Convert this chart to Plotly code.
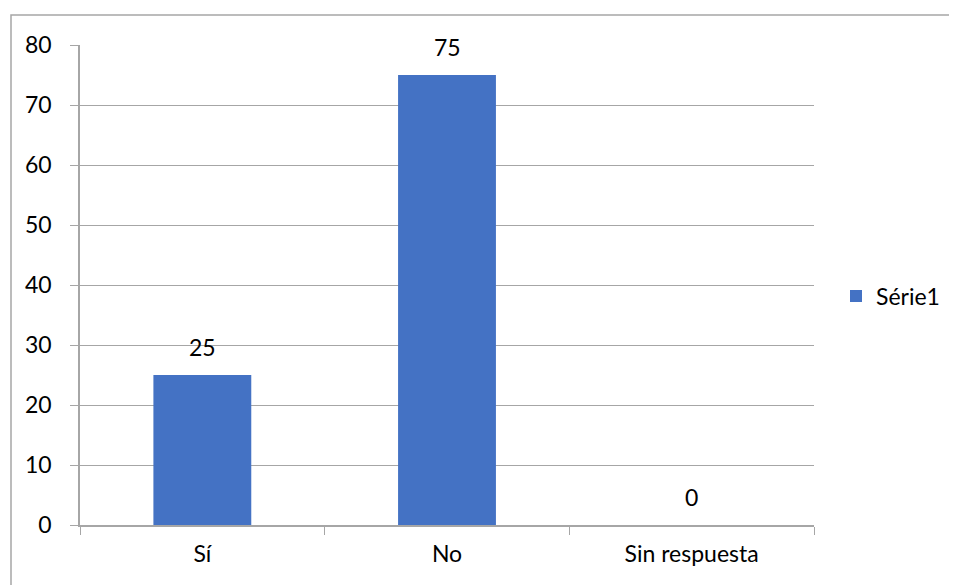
import plotly.graph_objects as go

categories = ["Sí", "No", "Sin respuesta"]
values = [25, 75, 0]
series_name = "Série1"
y_ticks = [0, 10, 20, 30, 40, 50, 60, 70, 80]

OFF = 8  # page body margin
W, H = 957 - OFF, 585 - OFF
L, R, T, B = 80 - OFF, 814 - OFF, 45 - OFF, 525 - OFF

def px(x):
    return (x - OFF - L) / (R - L)

def py(y):
    return (B - (y - OFF)) / (B - T)

FONT = "Lato, Carlito, Calibri, sans-serif"
FS = 23

fig = go.Figure()
fig.add_trace(go.Bar(
    x=categories, y=values, name=series_name,
    marker=dict(color="#4472C4", line=dict(width=0)),
    width=0.4,
    showlegend=True,
))

for c, v in zip(categories, values):
    fig.add_annotation(x=c, y=v, text=str(v), showarrow=False,
                       yanchor="bottom", yshift=12,
                       font=dict(size=FS, color="#000000", family=FONT))

fig.update_layout(
    width=W, height=H,
    margin=dict(l=L, r=W - R, t=T, b=H - B),
    plot_bgcolor="white", paper_bgcolor="white",
    font=dict(family=FONT, size=FS, color="#000000"),
    showlegend=True,
    legend=dict(x=px(836), y=py(296), xanchor="left", yanchor="middle",
                font=dict(size=FS), bgcolor="rgba(0,0,0,0)",
                itemwidth=30, tracegroupgap=0),
    shapes=[dict(type="rect", xref="paper", yref="paper",
                 x0=px(11), x1=px(975), y0=py(600), y1=py(15),
                 line=dict(color="#A6A6A6", width=1.5), layer="below")],
)

fig.update_yaxes(
    range=[0, 80], tickvals=y_ticks,
    showgrid=True, gridcolor="#A6A6A6", gridwidth=1,
    showline=True, linecolor="#A6A6A6", linewidth=1.5,
    ticks="outside", ticklen=8, tickcolor="#A6A6A6", tickwidth=1,
    ticklabelstandoff=14,
    zeroline=False,
    tickfont=dict(size=FS),
)
fig.update_xaxes(
    showline=True, linecolor="#A6A6A6", linewidth=1.5,
    ticks="outside", ticklen=8, tickcolor="#A6A6A6", tickwidth=1,
    tickson="boundaries",
    showgrid=False,
    tickfont=dict(size=FS),
    ticklabelstandoff=8,
)

fig.write_html("out.html")
